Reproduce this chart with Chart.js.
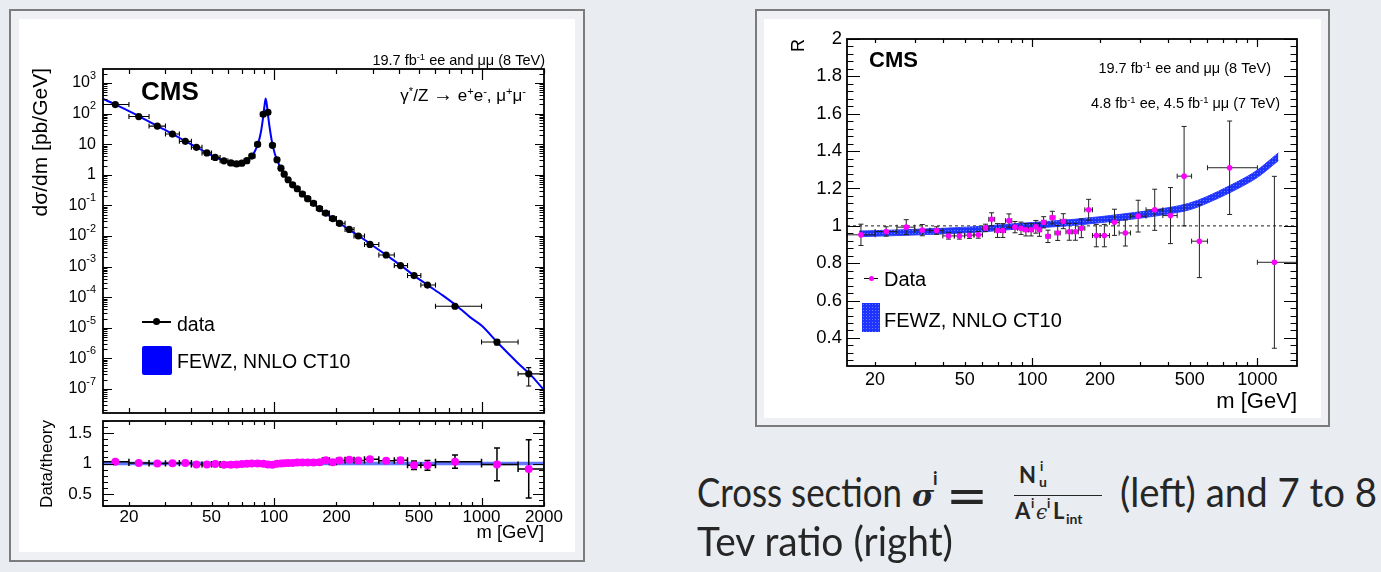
<!DOCTYPE html>
<html>
<head>
<meta charset="utf-8">
<script src="https://cdn.jsdelivr.net/npm/chart.js@4.4.1/dist/chart.umd.min.js"></script>
<style>
html, body { margin: 0; padding: 0; }
body { width: 1381px; height: 572px; background: #e9ecf0; position: relative; overflow: hidden; font-family: 'Liberation Sans', Arial, sans-serif; color: #000; }
.frame { position: absolute; border: 2px solid #7c7c7c; background: #eef0f3; box-sizing: border-box; }
.sheet { position: absolute; background: #fff; }
canvas { position: absolute; display: block; }
.t { position: absolute; white-space: nowrap; line-height: 1; }
.rt { text-align: right; }
.sp { font-size: 0.65em; position: relative; top: -0.55em; }
.rot { position: absolute; white-space: nowrap; width: 300px; text-align: right; transform-origin: 0 0; transform: rotate(-90deg); line-height: 1; }
.cap { position: absolute; white-space: nowrap; font-family: Lato, 'Open Sans', sans-serif; color: #262626; line-height: 1; transform-origin: 0 0; }
.bx { position: absolute; }
.stip { background-color: #1f33ff; background-image: radial-gradient(circle, #6a7bff 0.6px, transparent 0.9px); background-size: 3px 3px; }
</style>
</head>
<body>

<div class="frame" style="left:9px;top:9px;width:576px;height:553px;"></div>
<div class="sheet" style="left:19px;top:19px;width:556px;height:533px;"></div>
<div class="frame" style="left:755px;top:9px;width:575px;height:418px;"></div>
<div class="sheet" style="left:764px;top:19px;width:557px;height:399px;"></div>

<canvas id="mainChart" width="556" height="398" style="left:19px;top:19px;"></canvas>
<canvas id="ratioChart" width="556" height="135" style="left:19px;top:417px;"></canvas>
<canvas id="rChart" width="557" height="399" style="left:764px;top:19px;"></canvas>

<!-- left panel annotations -->
<div class="t rt" style="right:836px;top:53px;font-size:14.5px;">19.7 fb<span class="sp">-1</span> ee and μμ (8 TeV)</div>
<div class="t" style="left:141px;top:78px;font-size:26px;font-weight:bold;">CMS</div>
<div class="t rt" style="right:855px;top:84px;font-size:17px;">γ<span class="sp">*</span>/Z <span style="font-size:20px;">→</span> e<span class="sp">+</span>e<span class="sp">-</span>, μ<span class="sp">+</span>μ<span class="sp">-</span></div>
<div class="bx" style="left:142px;top:321px;width:29px;height:1.5px;background:#000;"></div>
<div class="bx" style="left:153px;top:318px;width:7px;height:7px;border-radius:50%;background:#000;"></div>
<div class="t" style="left:177px;top:315px;font-size:19.5px;">data</div>
<div class="bx" style="left:142px;top:346px;width:30px;height:29px;background:#0000ff;border-radius:2px;"></div>
<div class="t" style="left:177px;top:352px;font-size:19.5px;">FEWZ, NNLO CT10</div>
<div class="rot" style="left:29px;top:368px;font-size:21px;">dσ/dm [pb/GeV]</div>
<div class="rot" style="left:38px;top:720px;font-size:17px;">Data/theory</div>
<div class="t rt" style="right:837px;top:523px;font-size:18.4px;">m [GeV]</div>

<!-- right panel annotations -->
<div class="t" style="left:869px;top:49px;font-size:22px;font-weight:bold;">CMS</div>
<div class="t rt" style="right:110px;top:61px;font-size:14.5px;">19.7 fb<span class="sp">-1</span> ee and μμ (8 TeV)</div>
<div class="t rt" style="right:101px;top:96px;font-size:14.5px;">4.8 fb<span class="sp">-1</span> ee, 4.5 fb<span class="sp">-1</span> μμ (7 TeV)</div>
<div class="rot" style="left:789px;top:339px;font-size:18px;">R</div>
<div class="bx" style="left:864px;top:277.5px;width:14px;height:1.3px;background:#000;"></div>
<div class="bx" style="left:868.5px;top:275.5px;width:5px;height:5px;border-radius:50%;background:#ff00ff;"></div>
<div class="t" style="left:884px;top:269px;font-size:20px;">Data</div>
<div class="bx stip" style="left:862px;top:303px;width:18px;height:29px;"></div>
<div class="t" style="left:884px;top:310px;font-size:20px;">FEWZ, NNLO CT10</div>
<div class="t rt" style="right:84px;top:390px;font-size:22px;">m [GeV]</div>

<!-- slide caption -->
<span class="cap fit" data-w="205" style="left:697px;top:471.5px;font-size:40px;">Cross section</span>
<span class="cap" style="left:912px;top:481px;font-size:30px;font-family:'DejaVu Serif',serif;font-weight:bold;font-style:italic;">σ</span>
<span class="cap" style="left:933px;top:469px;font-size:18px;font-weight:bold;">i</span>
<span class="cap fit" data-w="42" style="left:946px;top:471px;font-size:50px;font-family:'DejaVu Sans',sans-serif;">=</span>
<span class="cap" style="left:1019px;top:463.5px;font-size:22px;font-weight:bold;">N</span>
<span class="cap" style="left:1040px;top:459.5px;font-size:13px;font-weight:bold;">i</span>
<span class="cap" style="left:1039px;top:474.5px;font-size:14px;font-weight:bold;">u</span>
<div class="bx" style="left:1014px;top:494.5px;width:88px;height:1.6px;background:#262626;"></div>
<span class="cap" style="left:1015px;top:499.5px;font-size:22px;font-weight:bold;">A</span>
<span class="cap" style="left:1031px;top:496.5px;font-size:13px;font-weight:bold;">i</span>
<span class="cap" style="left:1036px;top:502px;font-size:20px;font-family:'DejaVu Serif',serif;font-style:italic;">ϵ</span>
<span class="cap" style="left:1047px;top:496.5px;font-size:13px;font-weight:bold;">i</span>
<span class="cap" style="left:1053px;top:499.5px;font-size:22px;font-weight:bold;">L</span>
<span class="cap" style="left:1066px;top:511.5px;font-size:14px;font-weight:bold;">int</span>
<span class="cap fit" data-w="257" style="left:1120px;top:471.5px;font-size:40px;">(left) and 7 to 8</span>
<span class="cap fit" data-w="256" style="left:697px;top:521px;font-size:40px;">Tev ratio (right)</span>

<script>
// ---- left panel: 8 TeV differential cross section ----
const binLo = [15, 20, 25, 30, 35, 40, 45, 50, 55, 60, 64, 68, 72, 76, 81, 86, 91, 96, 101, 106, 110, 115, 120, 126, 133, 141, 150, 160, 171, 185, 200, 220, 243, 273, 320, 380, 440, 510, 600, 1000, 1500];
const binHi = [20, 25, 30, 35, 40, 45, 50, 55, 60, 64, 68, 72, 76, 81, 86, 91, 96, 101, 106, 110, 115, 120, 126, 133, 141, 150, 160, 171, 185, 200, 220, 243, 273, 320, 380, 440, 510, 600, 1000, 1500, 2000];
const xsMass = [17.2, 22.3, 27.4, 32.4, 37.4, 42.3, 47.5, 52.1, 57.4, 62, 66, 70, 74, 78.2, 83.4, 88.8, 93.5, 98.3, 103.4, 108, 112, 117, 123, 129.5, 137, 145.5, 155, 165.8, 177.7, 192, 207, 230.6, 255, 290, 347, 407, 473, 549, 745, 1187, 1688];
const xsValue = [197, 80, 39, 21.4, 12.4, 7.9, 5.2, 3.7, 2.85, 2.45, 2.27, 2.4, 2.9, 4.1, 9.9, 95, 110, 9.2, 3.1, 1.65, 1.05, 0.69, 0.47, 0.35, 0.236, 0.166, 0.117, 0.079, 0.056, 0.037, 0.026, 0.0164, 0.0100, 0.0053, 0.0024, 0.00108, 0.00051, 0.00025, 5.07e-5, 3.43e-6, 3.14e-7];
const xsErrRel = [0.03, 0.03, 0.03, 0.03, 0.03, 0.03, 0.03, 0.03, 0.03, 0.03, 0.03, 0.03, 0.03, 0.03, 0.03, 0.03, 0.03, 0.03, 0.03, 0.03, 0.03, 0.03, 0.03, 0.03, 0.03, 0.03, 0.03, 0.03, 0.03, 0.03, 0.03, 0.04, 0.04, 0.04, 0.05, 0.06, 0.07, 0.08, 0.11, 0.2, 0.6];
const ratioValue = [1.027, 1.01, 1.0, 1.005, 1.01, 0.985, 0.985, 0.99, 0.98, 0.98, 0.985, 0.99, 0.995, 1.0, 1.0, 0.995, 0.985, 0.98, 0.995, 1.0, 1.005, 1.01, 1.01, 1.015, 1.015, 1.015, 1.015, 1.02, 1.055, 1.02, 1.05, 1.06, 1.05, 1.07, 1.045, 1.055, 0.97, 0.97, 1.03, 0.985, 0.91];
const ratioErr = [0.01, 0.01, 0.01, 0.01, 0.01, 0.01, 0.01, 0.01, 0.01, 0.01, 0.01, 0.01, 0.01, 0.01, 0.01, 0.01, 0.01, 0.01, 0.01, 0.01, 0.01, 0.01, 0.01, 0.01, 0.015, 0.015, 0.015, 0.015, 0.02, 0.02, 0.02, 0.02, 0.02, 0.025, 0.03, 0.04, 0.07, 0.08, 0.11, 0.27, 0.48];
const theoryMass = [15, 17.5, 22.5, 27.5, 32.5, 37.5, 42.5, 47.5, 52.5, 57.5, 62, 66, 70, 74, 78, 81, 84, 86.5, 88.5, 90, 91.2, 92.5, 94, 96, 98, 101, 104, 108, 112, 117, 123, 130, 137, 145, 155, 165, 178, 192, 210, 230, 258, 295, 350, 410, 475, 555, 650, 760, 880, 1000, 1200, 1500, 1750, 2000];
const theoryXs = [300, 190, 80, 39, 21.5, 12.4, 7.9, 5.2, 3.7, 2.85, 2.4, 2.25, 2.35, 2.8, 4.0, 6, 11, 25, 70, 180, 310, 180, 70, 25, 11, 4.8, 2.8, 1.6, 1.05, 0.68, 0.46, 0.33, 0.24, 0.165, 0.115, 0.08, 0.055, 0.037, 0.025, 0.016, 0.0098, 0.0052, 0.0023, 0.00108, 0.0005, 0.00024, 0.000115, 5.2e-5, 2.24e-5, 1.19e-5, 3.2e-6, 7e-7, 2.6e-7, 9.3e-8];

// ---- right panel: 8 TeV / 7 TeV ratio ----
const rMass = [17.3, 22.4, 27.5, 32.4, 37.5, 42.4, 47.4, 52.5, 57.5, 61.9, 65.9, 70, 73.9, 78.7, 83.7, 89, 93.6, 98.7, 103.6, 107.5, 112.2, 117.3, 122.7, 129.6, 137.2, 145.9, 155.3, 165.1, 177.9, 192.4, 208.9, 231.7, 258.9, 295.2, 349.7, 410.9, 472.4, 552.4, 752.7, 1190];
const rValue = [0.952, 0.97, 0.993, 0.977, 0.975, 0.946, 0.946, 0.95, 0.952, 0.989, 1.035, 0.975, 0.975, 1.028, 0.993, 0.987, 0.979, 0.979, 0.995, 0.979, 1.019, 0.944, 1.044, 0.962, 1.025, 0.968, 0.968, 0.987, 1.086, 0.948, 0.948, 1.019, 0.962, 1.052, 1.086, 1.055, 1.266, 0.918, 1.311, 0.805];
const rErr = [0.057, 0.025, 0.04, 0.03, 0.02, 0.017, 0.017, 0.017, 0.018, 0.02, 0.035, 0.037, 0.037, 0.036, 0.03, 0.033, 0.033, 0.033, 0.034, 0.035, 0.03, 0.033, 0.034, 0.04, 0.04, 0.045, 0.045, 0.05, 0.056, 0.06, 0.06, 0.07, 0.07, 0.085, 0.11, 0.15, 0.266, 0.195, 0.25, 0.46];
const bandMass = [17, 25, 40, 60, 80, 100, 150, 200, 300, 400, 500, 600, 750, 900, 1000, 1240];
const bandCenter = [0.957, 0.963, 0.972, 0.983, 0.995, 1.003, 1.018, 1.033, 1.058, 1.08, 1.104, 1.14, 1.195, 1.245, 1.279, 1.37];
const bandHalf = [0.015, 0.015, 0.015, 0.015, 0.015, 0.015, 0.016, 0.016, 0.017, 0.017, 0.018, 0.018, 0.019, 0.019, 0.02, 0.021];

// ---- tick labels ----
const massLabels = [20, 50, 100, 200, 500, 1000, 2000];
const massLabelsR = [20, 50, 100, 200, 500, 1000];
const xsDecades = [-7, -6, -5, -4, -3, -2, -1, 0, 1, 2, 3];
const ratioLabels = [0.5, 1, 1.5];
const rLabels = [0.4, 0.6, 0.8, 1, 1.2, 1.4, 1.6, 1.8, 2];
const unity = 1;

const pink = '#ff00ff';

function pts(xs, ys) { return xs.map((x, i) => ({ x: x, y: ys[i] })); }

// stippled blue fill like the ROOT band
function stipple() {
  const c = document.createElement('canvas');
  c.width = 3; c.height = 3;
  const g = c.getContext('2d');
  g.fillStyle = '#1f33ff';
  g.fillRect(0, 0, 3, 3);
  g.fillStyle = '#6a7bff';
  g.fillRect(1, 1, 1, 1);
  return g.createPattern(c, 'repeat');
}

// log-axis ticks: 1..9 x 10^n, major at the decades
function logTicks(lo, hi, major, minor) {
  const out = [];
  for (let e = Math.floor(Math.log10(lo)); e <= Math.ceil(Math.log10(hi)); e++) {
    for (let k = 1; k < 10; k++) {
      const v = k * Math.pow(10, e);
      if (v < lo * 0.999 || v > hi * 1.001) continue;
      out.push([v, k === 1 ? major : minor]);
    }
  }
  return out;
}
function linTicks(lo, hi, step, every, major, minor) {
  const out = [];
  const n0 = Math.ceil(lo / step - 1e-6), n1 = Math.floor(hi / step + 1e-6);
  for (let n = n0; n <= n1; n++) out.push([n * step, n % every === 0 ? major : minor]);
  return out;
}

function drawParts(ctx, parts, x, y, size, align) {
  const widths = parts.map(p => {
    ctx.font = (p[1] ? size * 0.68 : size) + 'px "Liberation Sans", Arial, sans-serif';
    return ctx.measureText(p[0]).width;
  });
  const total = widths.reduce((a, b) => a + b, 0);
  let cx = align === 'right' ? x - total : align === 'center' ? x - total / 2 : x;
  ctx.textBaseline = 'middle';
  ctx.textAlign = 'left';
  parts.forEach((p, i) => {
    ctx.font = (p[1] ? size * 0.68 : size) + 'px "Liberation Sans", Arial, sans-serif';
    ctx.fillText(p[0], cx, p[1] ? y - size * 0.45 : y);
    cx += widths[i];
  });
}

// ROOT-style frame: inward ticks on all four sides, error bars, hand placed labels
function rootFrame(cfg) {
  return {
    id: 'rootFrame',
    beforeDatasetDraw(chart, args) {
      const eb = cfg.errors;
      if (!eb || args.index !== eb.dataset) return;
      const { ctx, chartArea: a, scales: { x, y } } = chart;
      ctx.save();
      ctx.beginPath();
      ctx.rect(a.left, a.top, a.right - a.left, a.bottom - a.top);
      ctx.clip();
      ctx.strokeStyle = eb.color;
      ctx.lineWidth = eb.width;
      ctx.beginPath();
      for (let i = 0; i < eb.x.length; i++) {
        const px = x.getPixelForValue(eb.x[i]), py = y.getPixelForValue(eb.y[i]);
        const x0 = x.getPixelForValue(eb.xlo[i]), x1 = x.getPixelForValue(eb.xhi[i]);
        const y0 = y.getPixelForValue(eb.ylo[i]), y1 = y.getPixelForValue(eb.yhi[i]);
        ctx.moveTo(x0, py); ctx.lineTo(x1, py);
        ctx.moveTo(x0, py - eb.cap); ctx.lineTo(x0, py + eb.cap);
        ctx.moveTo(x1, py - eb.cap); ctx.lineTo(x1, py + eb.cap);
        ctx.moveTo(px, y0); ctx.lineTo(px, y1);
        ctx.moveTo(px - eb.cap, y0); ctx.lineTo(px + eb.cap, y0);
        ctx.moveTo(px - eb.cap, y1); ctx.lineTo(px + eb.cap, y1);
      }
      ctx.stroke();
      ctx.restore();
    },
    afterDraw(chart) {
      const { ctx, chartArea: a, scales: { x, y } } = chart;
      ctx.save();
      ctx.strokeStyle = '#000';
      ctx.lineWidth = 1.2;
      ctx.beginPath();
      cfg.xTicks.forEach(([v, len]) => {
        const px = Math.round(x.getPixelForValue(v)) + 0.5;
        ctx.moveTo(px, a.bottom); ctx.lineTo(px, a.bottom - len);
        ctx.moveTo(px, a.top); ctx.lineTo(px, a.top + len);
      });
      cfg.yTicks.forEach(([v, len]) => {
        const py = Math.round(y.getPixelForValue(v)) + 0.5;
        ctx.moveTo(a.left, py); ctx.lineTo(a.left + len, py);
        ctx.moveTo(a.right, py); ctx.lineTo(a.right - len, py);
      });
      ctx.stroke();
      ctx.lineWidth = 1.8;
      ctx.strokeRect(a.left, a.top, a.right - a.left, a.bottom - a.top);
      ctx.fillStyle = '#000';
      (cfg.xLabels || []).forEach(v => drawParts(ctx, [[String(v), 0]], x.getPixelForValue(v), a.bottom + cfg.xLabelOff, cfg.xLabelSize, 'center'));
      (cfg.yLabels || []).forEach(([v, parts]) => drawParts(ctx, parts, a.left - cfg.yLabelOff, y.getPixelForValue(v), cfg.yLabelSize, 'right'));
      ctx.restore();
    }
  };
}

function baseOptions(pad, xr, yr, ylog) {
  return {
    responsive: false,
    animation: false,
    events: [],
    layout: { padding: pad },
    scales: {
      x: { type: 'logarithmic', min: xr[0], max: xr[1], bounds: 'data', display: false },
      y: { type: ylog ? 'logarithmic' : 'linear', min: yr[0], max: yr[1], bounds: 'data', display: false }
    },
    plugins: { legend: { display: false }, tooltip: { enabled: false } }
  };
}

// ---- left: cross section ----
new Chart(document.getElementById('mainChart'), {
  type: 'scatter',
  data: {
    datasets: [
      { type: 'line', data: pts(theoryMass, theoryXs), borderColor: '#0000ff', borderWidth: 2, pointRadius: 0, cubicInterpolationMode: 'monotone', order: 2 },
      { data: pts(xsMass, xsValue), backgroundColor: '#000', borderWidth: 0, pointRadius: 3.6, order: 1 }
    ]
  },
  options: baseOptions({ left: 84, top: 50, right: 31, bottom: 3 }, [15, 2000], [1.65e-8, 2860], true),
  plugins: [rootFrame({
    xTicks: logTicks(15, 2000, 11, 5),
    yTicks: logTicks(1.65e-8, 2860, 9, 4.5),
    yLabels: xsDecades.map(e => [Math.pow(10, e), e === 0 ? [['1', 0]] : e === 1 ? [['10', 0]] : [['10', 0], [String(e), 1]]]),
    yLabelOff: 7, yLabelSize: 16,
    errors: {
      dataset: 1, color: '#000', width: 1.1, cap: 2.5,
      x: xsMass, y: xsValue, xlo: binLo, xhi: binHi,
      ylo: xsValue.map((v, i) => v * (1 - xsErrRel[i])), yhi: xsValue.map((v, i) => v * (1 + xsErrRel[i]))
    }
  })]
});

// ---- left: data / theory ----
new Chart(document.getElementById('ratioChart'), {
  type: 'scatter',
  data: {
    datasets: [
      { type: 'line', data: pts([15, 2000], [unity, unity]), borderColor: 'rgba(70,95,255,0.85)', borderWidth: 3.5, pointRadius: 0, order: 2 },
      { data: pts(xsMass, ratioValue), backgroundColor: pink, borderWidth: 0, pointRadius: 4, order: 1 }
    ]
  },
  options: baseOptions({ left: 84, top: 3, right: 31, bottom: 46 }, [15, 2000], [0.3, 1.7], false),
  plugins: [rootFrame({
    xTicks: logTicks(15, 2000, 8, 4),
    yTicks: linTicks(0.3, 1.7, 0.1, 5, 11, 5),
    xLabels: massLabels, xLabelOff: 11, xLabelSize: 17,
    yLabels: ratioLabels.map(v => [v, [[String(v), 0]]]),
    yLabelOff: 11, yLabelSize: 17,
    errors: {
      dataset: 1, color: '#000', width: 1.5, cap: 3,
      x: xsMass, y: ratioValue, xlo: binLo, xhi: binHi,
      ylo: ratioValue.map((v, i) => v - ratioErr[i]), yhi: ratioValue.map((v, i) => v + ratioErr[i])
    }
  })]
});

// ---- right: 8 TeV / 7 TeV ----
const bandFill = stipple();
new Chart(document.getElementById('rChart'), {
  type: 'scatter',
  data: {
    datasets: [
      { type: 'line', data: pts([15, 1500], [unity, unity]), borderColor: '#333', borderWidth: 1.1, borderDash: [3, 3], pointRadius: 0, order: 4 },
      { type: 'line', data: pts(bandMass, bandCenter.map((c, i) => c + bandHalf[i])), borderColor: '#3344ff', borderWidth: 1, pointRadius: 0, cubicInterpolationMode: 'monotone', fill: false, order: 3 },
      { type: 'line', data: pts(bandMass, bandCenter.map((c, i) => c - bandHalf[i])), borderColor: '#3344ff', borderWidth: 1, pointRadius: 0, cubicInterpolationMode: 'monotone', fill: '-1', backgroundColor: bandFill, order: 2 },
      { data: pts(rMass, rValue), backgroundColor: pink, borderWidth: 0, pointRadius: 2.8, order: 1 }
    ]
  },
  options: baseOptions({ left: 83, top: 20, right: 24, bottom: 52 }, [15, 1500], [0.25, 2], false),
  plugins: [rootFrame({
    xTicks: logTicks(15, 1500, 8, 4),
    yTicks: linTicks(0.25, 2, 0.04, 5, 13, 6.5),
    xLabels: massLabelsR, xLabelOff: 14, xLabelSize: 18,
    yLabels: rLabels.map(v => [v, [[String(v), 0]]]),
    yLabelOff: 5, yLabelSize: 18.5,
    errors: {
      dataset: 3, color: '#222', width: 1, cap: 2.5,
      x: rMass, y: rValue, xlo: binLo.slice(0, rMass.length), xhi: binHi.slice(0, rMass.length),
      ylo: rValue.map((v, i) => v - rErr[i]), yhi: rValue.map((v, i) => v + rErr[i])
    }
  })]
});

// squeeze the caption text to the widths of the slide font
document.querySelectorAll('.fit').forEach(el => {
  const w = el.getBoundingClientRect().width;
  el.style.transform = 'scaleX(' + (parseFloat(el.dataset.w) / w) + ')';
});
</script>
</body>
</html>
